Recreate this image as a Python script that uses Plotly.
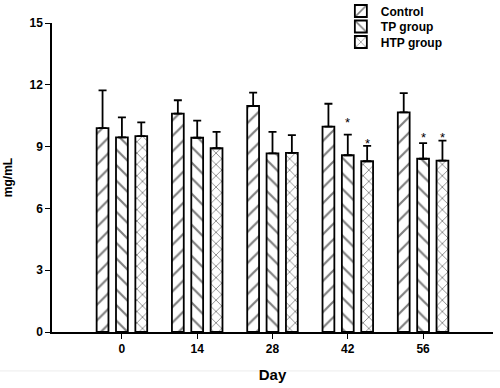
import plotly.graph_objects as go

days = [0, 14, 28, 42, 56]
day_labels = ["0", "14", "28", "42", "56"]

control = [9.90, 10.60, 10.97, 9.97, 10.66]
control_err = [1.83, 0.65, 0.65, 1.11, 0.94]
tp = [9.45, 9.43, 8.67, 8.58, 8.41]
tp_err = [0.97, 0.83, 1.04, 1.00, 0.76]
htp = [9.51, 8.92, 8.70, 8.29, 8.32]
htp_err = [0.67, 0.79, 0.86, 0.75, 0.97]

# significance markers: (day, group, y position of star)
stars_day = [42, 42, 56, 56]
stars_group = ["TP group", "HTP group", "TP group", "HTP group"]
stars_y = [10.33, 9.29, 9.60, 9.60]

FONT = "Liberation Sans, Arial, sans-serif"
offsets = {"Control": -3.6, "TP group": 0.0, "HTP group": 3.6}
bar_w = 2.2

series = [
    ("Control", control, control_err, "/", 11, "legend"),
    ("TP group", tp, tp_err, "\\", 11, "legend2"),
    ("HTP group", htp, htp_err, "x", 8, "legend3"),
]

fig = go.Figure()
for name, vals, errs, shape, psize, leg in series:
    fig.add_trace(go.Bar(
        name=name,
        legend=leg,
        x=[d + offsets[name] for d in days],
        y=vals,
        width=bar_w,
        marker=dict(
            color="white",
            line=dict(color="black", width=1.8),
            pattern=dict(shape=shape, fgcolor="black", bgcolor="white",
                         size=psize, solidity=0.2, fillmode="overlay"),
        ),
        error_y=dict(type="data", array=errs, arrayminus=[0] * len(errs),
                     symmetric=False, color="black", thickness=1.8, width=4),
    ))

for d, g, sy in zip(stars_day, stars_group, stars_y):
    fig.add_annotation(x=d + offsets[g], y=sy, text="*", showarrow=False,
                       xanchor="center", yanchor="middle", yshift=-3,
                       font=dict(family=FONT, size=13, color="black"))

fig.add_shape(type="line", xref="paper", yref="paper", x0=-0.2, x1=1.02,
              y0=-0.126, y1=-0.126, line=dict(color="#ececec", width=1))

leg_font = dict(family=FONT, size=12, color="black", weight="bold")
def leg(ypix):
    return dict(x=0.655, y=1 + (23 - ypix) / 309, xanchor="left", yanchor="middle",
                font=leg_font, bgcolor="rgba(0,0,0,0)", itemwidth=30)

fig.update_layout(
    width=500, height=388,
    margin=dict(l=52, r=7, t=23, b=56, autoexpand=False),
    plot_bgcolor="white", paper_bgcolor="white",
    barmode="overlay",
    showlegend=True,
    legend=leg(11), legend2=leg(26.5), legend3=leg(42),
    font=dict(family=FONT, color="black"),
)
fig.update_xaxes(
    range=[-13, 69], tickmode="array", tickvals=days, ticktext=day_labels,
    showgrid=False, zeroline=False, showline=True, linecolor="black", linewidth=1.5,
    ticks="outside", ticklen=5, tickcolor="black", tickwidth=1.2,
    tickfont=dict(family=FONT, size=12, color="black", weight="bold"),
    title=dict(text="Day", font=dict(family=FONT, size=15, color="black", weight="bold"),
               standoff=14),
)
fig.update_yaxes(
    range=[0, 15], tickvals=[0, 3, 6, 9, 12, 15],
    showgrid=False, zeroline=False, showline=True, linecolor="black", linewidth=1.5,
    ticks="outside", ticklen=5, tickcolor="black", tickwidth=1.2,
    tickfont=dict(family=FONT, size=12, color="black", weight="bold"),
    title=dict(text="mg/mL", font=dict(family=FONT, size=12, color="black", weight="bold"),
               standoff=14),
)

fig.write_html("out.html", config={"displayModeBar": False},
               post_script="document.body.style.margin='0';document.body.style.padding='0';")
